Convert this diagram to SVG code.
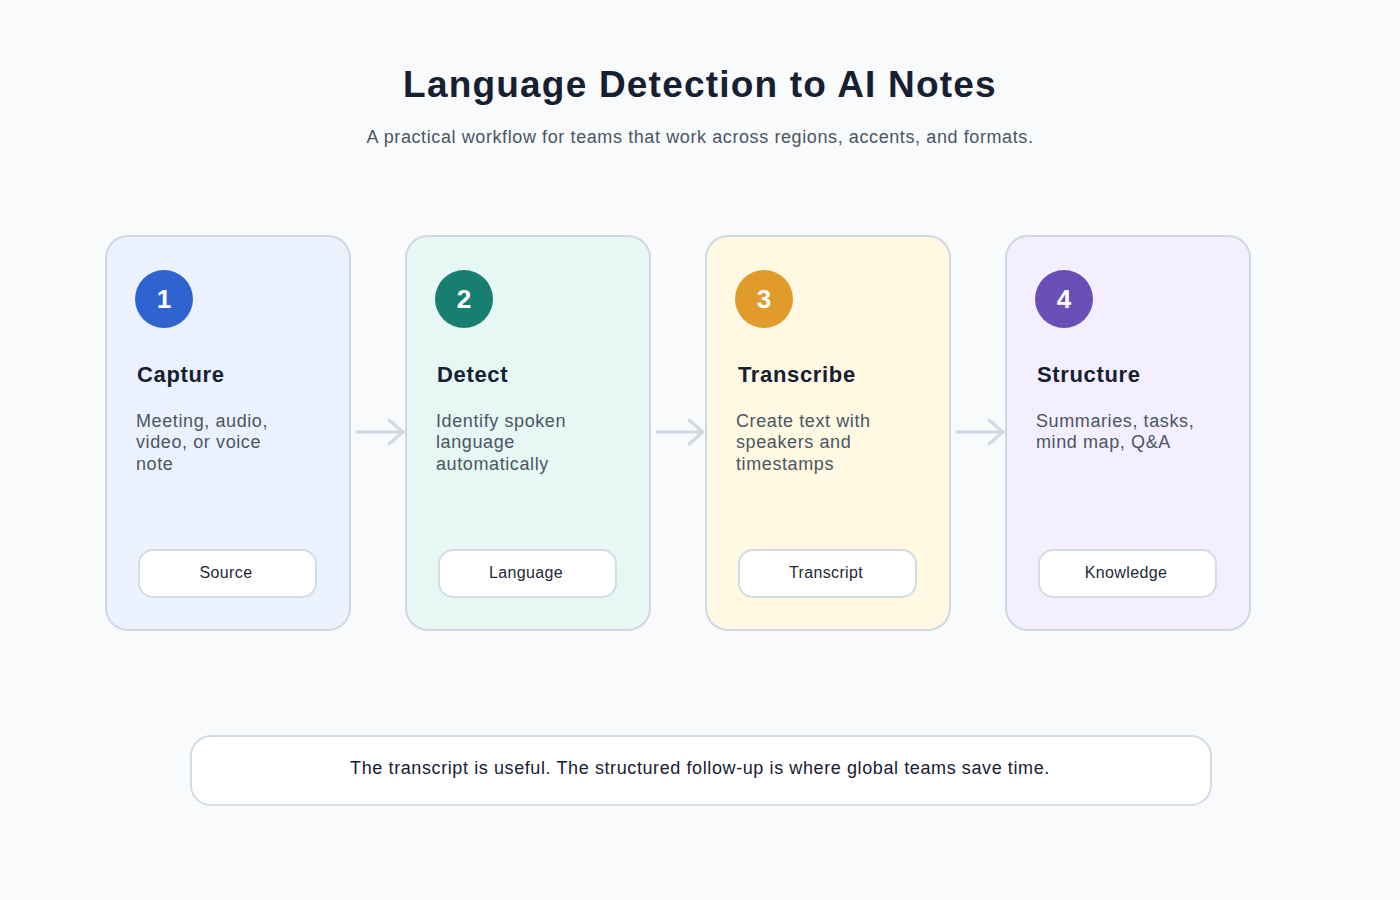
<svg xmlns="http://www.w3.org/2000/svg" width="1400" height="900" viewBox="0 0 1400 900">
<defs>
<style>
.card{stroke:#cfd8e3;stroke-width:2}
.num{font-family:"Liberation Sans",Arial,sans-serif;font-size:26px;font-weight:bold;fill:#ffffff;text-anchor:middle}
.ttl{font-family:"Liberation Sans",Arial,sans-serif;font-size:22px;font-weight:bold;fill:#172033;letter-spacing:0.65px}
.desc{font-family:"Liberation Sans",Arial,sans-serif;font-size:18px;fill:#4b5563;letter-spacing:0.6px}
.pill{fill:#ffffff;stroke:#d3dbe5;stroke-width:2}
.ptxt{font-family:"Liberation Sans",Arial,sans-serif;font-size:16px;fill:#1f2937;text-anchor:middle;letter-spacing:0.35px}
.conn{fill:none;stroke:#cfd8e3;stroke-width:3;stroke-linecap:round;stroke-linejoin:round}
</style>
</defs>
<rect width="1400" height="900" fill="#f8fafc"/>
<text x="700" y="97" text-anchor="middle" font-family="Liberation Sans, Arial, sans-serif" font-size="37" font-weight="bold" fill="#172033" letter-spacing="1.2">Language Detection to AI Notes</text>
<text x="700" y="143" text-anchor="middle" font-family="Liberation Sans, Arial, sans-serif" font-size="18" fill="#4b5563" letter-spacing="0.6">A practical workflow for teams that work across regions, accents, and formats.</text>

<g id="connectors">
<path class="conn" d="M357 432 H403 M389 420 L403 432 L389 444"/>
<path class="conn" d="M657 432 H703 M689 420 L703 432 L689 444"/>
<path class="conn" d="M957 432 H1003 M989 420 L1003 432 L989 444"/>
</g>

<g id="node-capture">
<rect class="card" x="106" y="236" width="244" height="394" rx="22" fill="#ebf2fe"/>
<circle cx="164" cy="299" r="29" fill="#2f64d0"/>
<text class="num" x="164" y="308">1</text>
<text class="ttl" x="137" y="382">Capture</text>
<text class="desc" x="136" y="427">Meeting, audio,</text>
<text class="desc" x="136" y="448">video, or voice</text>
<text class="desc" x="136" y="470">note</text>
<rect class="pill" x="139" y="550" width="177" height="47" rx="14"/>
<text class="ptxt" x="226" y="578">Source</text>
</g>

<g id="node-detect">
<rect class="card" x="406" y="236" width="244" height="394" rx="22" fill="#e6f7f4"/>
<circle cx="464" cy="299" r="29" fill="#177f70"/>
<text class="num" x="464" y="308">2</text>
<text class="ttl" x="437" y="382">Detect</text>
<text class="desc" x="436" y="427">Identify spoken</text>
<text class="desc" x="436" y="448">language</text>
<text class="desc" x="436" y="470">automatically</text>
<rect class="pill" x="439" y="550" width="177" height="47" rx="14"/>
<text class="ptxt" x="526" y="578">Language</text>
</g>

<g id="node-transcribe">
<rect class="card" x="706" y="236" width="244" height="394" rx="22" fill="#fff8e2"/>
<circle cx="764" cy="299" r="29" fill="#e09b2a"/>
<text class="num" x="764" y="308">3</text>
<text class="ttl" x="738" y="382">Transcribe</text>
<text class="desc" x="736" y="427">Create text with</text>
<text class="desc" x="736" y="448">speakers and</text>
<text class="desc" x="736" y="470">timestamps</text>
<rect class="pill" x="739" y="550" width="177" height="47" rx="14"/>
<text class="ptxt" x="826" y="578">Transcript</text>
</g>

<g id="node-structure">
<rect class="card" x="1006" y="236" width="244" height="394" rx="22" fill="#f3effe"/>
<circle cx="1064" cy="299" r="29" fill="#6a4fb8"/>
<text class="num" x="1064" y="308">4</text>
<text class="ttl" x="1037" y="382">Structure</text>
<text class="desc" x="1036" y="427">Summaries, tasks,</text>
<text class="desc" x="1036" y="448">mind map, Q&amp;A</text>
<rect class="pill" x="1039" y="550" width="177" height="47" rx="14"/>
<text class="ptxt" x="1126" y="578">Knowledge</text>
</g>

<g id="note">
<rect x="191" y="736" width="1020" height="69" rx="20" fill="#ffffff" stroke="#d3dbe5" stroke-width="2"/>
<text x="700" y="774" text-anchor="middle" font-family="Liberation Sans, Arial, sans-serif" font-size="18" fill="#172033" letter-spacing="0.6">The transcript is useful. The structured follow-up is where global teams save time.</text>
</g>
</svg>
